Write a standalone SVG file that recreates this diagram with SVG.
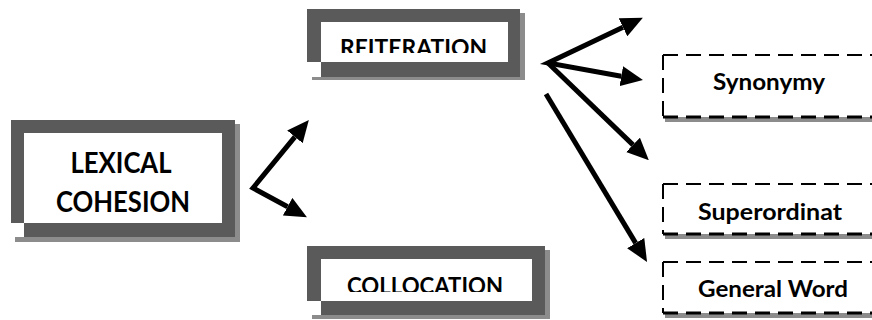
<svg xmlns="http://www.w3.org/2000/svg" width="872" height="320" viewBox="0 0 872 320">
<style>
.frame{fill:#5a5a5a;fill-rule:evenodd}
.shadow{fill:#8c8c8c}
.lbl{font-family:"Lato","Carlito","Liberation Sans",sans-serif;font-weight:bold;fill:#000}
.dash{fill:none;stroke:#000;stroke-width:2;stroke-dasharray:15 8}
.dashb{fill:none;stroke:#000;stroke-width:3;stroke-dasharray:15 8}
.arrow{fill:none;stroke:#000;stroke-width:5;stroke-linejoin:miter;marker-end:url(#ah)}
</style>
<defs>
<marker id="ah" viewBox="0 0 22 20" refX="0" refY="10" markerWidth="22" markerHeight="20" markerUnits="userSpaceOnUse" orient="auto-start-reverse">
<path d="M0,0 L22,10 L0,20 Z" fill="#000"/>
</marker>
<clipPath id="clipR"><rect x="321" y="22" width="187" height="31"/></clipPath>
<clipPath id="clipC"><rect x="321" y="259" width="211" height="33"/></clipPath>
</defs>
<rect width="872" height="320" fill="#fff"/>

<g id="node-lexical-cohesion">
<path class="shadow" d="M15,237 H235 V124 H240 V242 H15 Z"/>
<path class="frame" d="M11,120 H235 V237 H24 V223 H11 Z M24,133 H222 V223 H24 Z"/>
<text class="lbl" x="121" y="173" font-size="29" text-anchor="middle" textLength="101" lengthAdjust="spacingAndGlyphs">LEXICAL</text>
<text class="lbl" x="123" y="212" font-size="29" text-anchor="middle" textLength="134" lengthAdjust="spacingAndGlyphs">COHESION</text>
</g>

<g id="node-reiteration">
<path class="shadow" d="M312,77 H520 V13 H525 V80 H312 Z"/>
<path class="frame" d="M307,9 H520 V77 H321 V62 H307 Z M321,22 H508 V62 H321 Z"/>
<text class="lbl" x="413.5" y="56" font-size="22" text-anchor="middle" textLength="147" lengthAdjust="spacingAndGlyphs" clip-path="url(#clipR)">REITERATION</text>
</g>

<g id="node-collocation">
<path class="shadow" d="M312,315 H545 V250 H550 V319 H312 Z"/>
<path class="frame" d="M307,246 H545 V315 H321 V301 H307 Z M321,259 H532 V301 H321 Z"/>
<text class="lbl" x="425" y="294" font-size="22" text-anchor="middle" textLength="156" lengthAdjust="spacingAndGlyphs" clip-path="url(#clipC)">COLLOCATION</text>
</g>

<g id="node-synonymy">
<rect class="shadow" x="665" y="117" width="220" height="5"/>
<rect x="663" y="55" width="220" height="62" fill="#fff"/>
<path class="dash" d="M663,55 H880"/>
<path class="dash" d="M663,55 V117"/>
<path class="dashb" d="M663,117 H880"/>
<text class="lbl" x="713" y="90" font-size="22" textLength="112" lengthAdjust="spacingAndGlyphs">Synonymy</text>
</g>

<g id="node-superordinat">
<rect class="shadow" x="665" y="234" width="220" height="5"/>
<rect x="663" y="184" width="220" height="50" fill="#fff"/>
<path class="dash" d="M663,184 H880"/>
<path class="dash" d="M663,184 V234"/>
<path class="dashb" d="M663,234 H880"/>
<text class="lbl" x="698" y="220" font-size="22" textLength="144" lengthAdjust="spacingAndGlyphs">Superordinat</text>
</g>

<g id="node-general-word">
<rect class="shadow" x="665" y="313" width="220" height="5"/>
<rect x="663" y="262" width="220" height="51" fill="#fff"/>
<path class="dash" d="M663,262 H880"/>
<path class="dash" d="M663,262 V313"/>
<path class="dashb" d="M663,313 H880"/>
<text class="lbl" x="698" y="297" font-size="22" textLength="150" lengthAdjust="spacingAndGlyphs">General Word</text>
</g>

<g id="connectors">
<path class="arrow" style="marker-start:url(#ah)" d="M294.9,136.9 L253,188 L287.6,206.7"/>
<path class="arrow" style="marker-start:url(#ah)" d="M623,27.3 L548,63 L621.3,76.2"/>
<path class="arrow" d="M548,63 L633,144.9"/>
<path class="arrow" d="M546,94 L635.7,243.1"/>
</g>
</svg>
